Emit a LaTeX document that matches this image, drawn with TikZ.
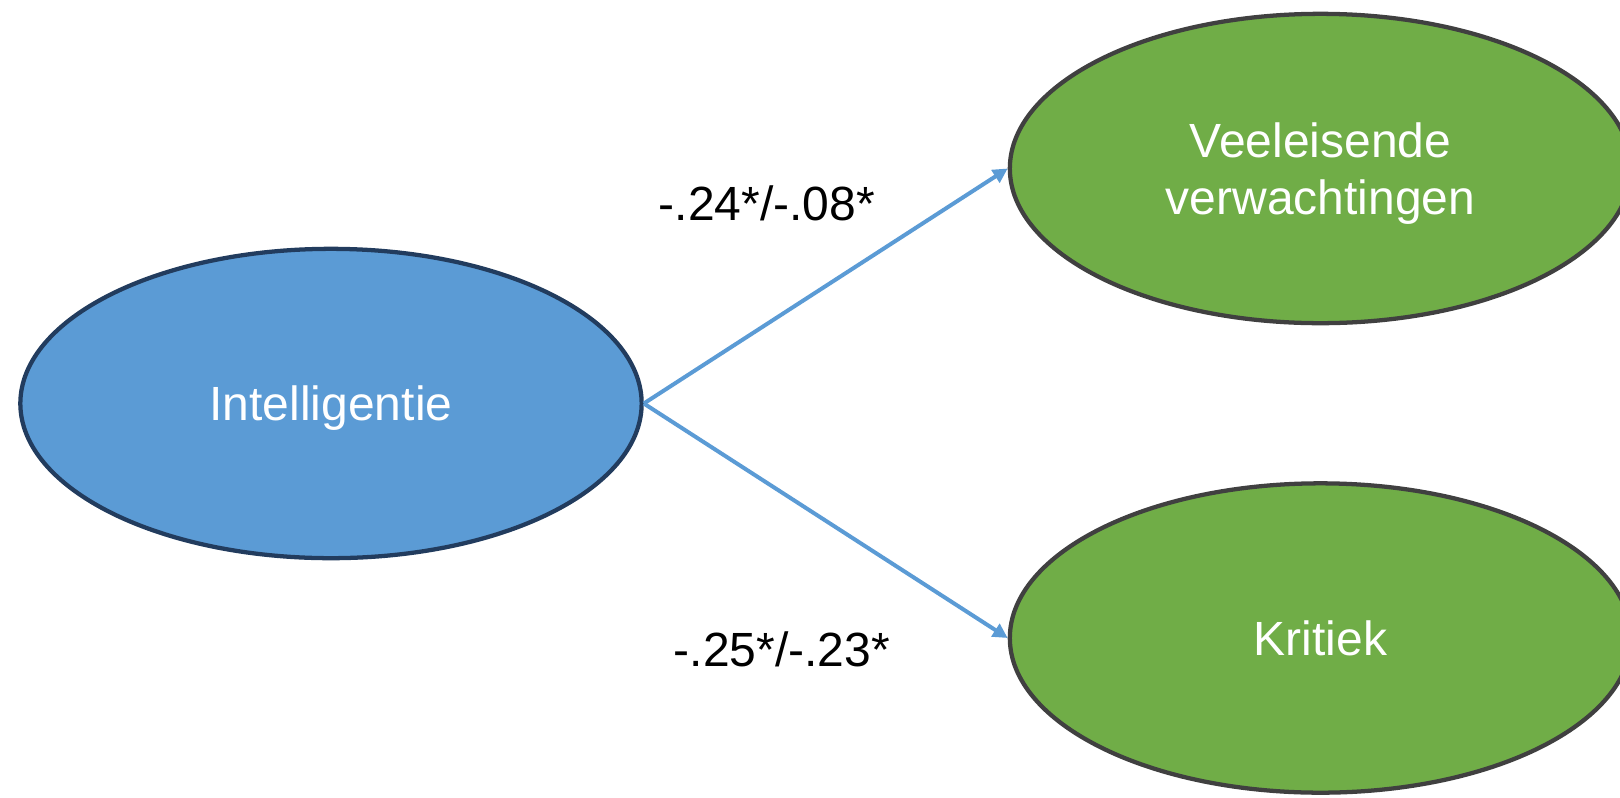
\documentclass[tikz,border=0pt]{standalone}
\usepackage{fontspec}
\setmainfont{Liberation Sans}
\usetikzlibrary{shapes.geometric,arrows.meta}

\definecolor{intelblauw}{RGB}{91,155,213}
\definecolor{intelrand}{RGB}{34,60,94}
\definecolor{groen}{RGB}{112,173,71}
\definecolor{groenrand}{RGB}{64,64,64}

\tikzset{every picture/.style={line width=0.75pt}}
\tikzset{
  factor/.style={ellipse, minimum width=466pt, minimum height=232pt, inner sep=0pt,
    line width=3.2pt, text=white, align=center, font=\fontsize{36}{42.5}\selectfont},
  pijl/.style={draw=intelblauw, line width=3pt, -{Triangle[length=11pt,width=11pt]}},
  coef/.style={anchor=base, font=\fontsize{36}{43}\selectfont}
}

\begin{document}
\begin{tikzpicture}[x=0.75pt,y=0.75pt,yscale=-1,xscale=1]
\useasboundingbox (0,0) rectangle (1620,797);

%Shape: Ellipse [id:intel]
\node (intel) [factor, fill=intelblauw, draw=intelrand, text depth=0pt] at (331,403.5) {Intelligentie};
%Shape: Ellipse [id:veel]
\node (veel) [factor, fill=groen, draw=groenrand, text depth=-9pt] at (1320.5,168.5) {Veeleisende\\verwachtingen};
%Shape: Ellipse [id:krit]
\node (krit) [factor, fill=groen, draw=groenrand, text depth=-3pt] at (1320.5,638) {Kritiek};

%Straight Lines [id:pijl1]
\draw [pijl] (intel.east) -- (veel.west) ;
%Straight Lines [id:pijl2]
\draw [pijl] (intel.east) -- (krit.west) ;

% Text Node
\node (coef1) [coef] at (767,220) {-.24*/-.08*};
% Text Node
\node (coef2) [coef] at (782,666) {-.25*/-.23*};

\end{tikzpicture}
\end{document}
